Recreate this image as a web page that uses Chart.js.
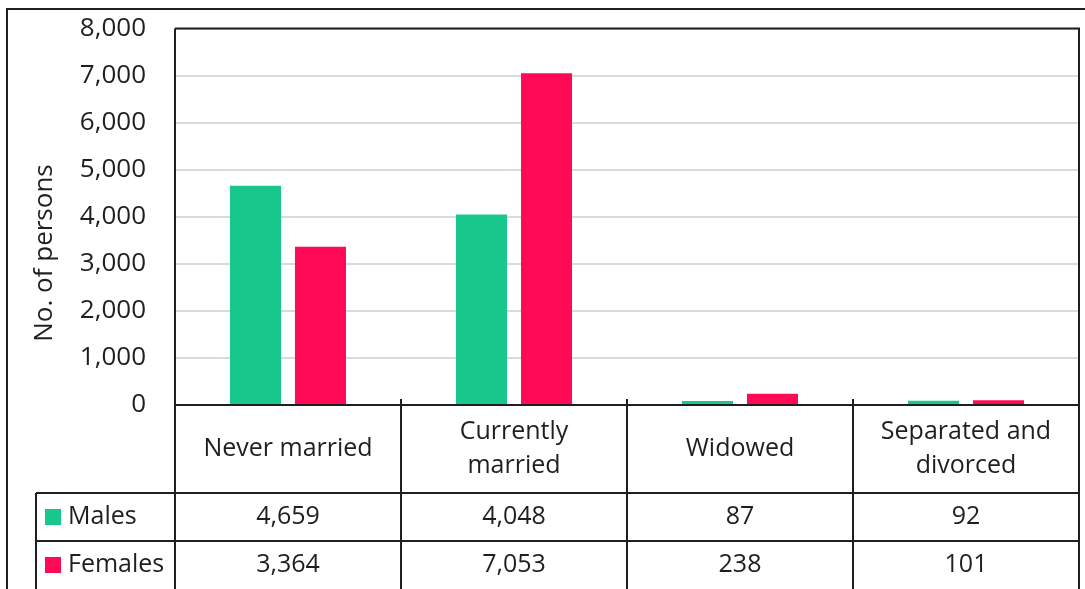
<!DOCTYPE html>
<html>
<head>
<meta charset="utf-8">
<script src="https://cdn.jsdelivr.net/npm/chart.js@4"></script>
<style>
  html, body { margin: 0; padding: 0; background: #fff; }
  #wrap { width: 1085px; height: 589px; }
</style>
</head>
<body>
<div id="wrap"><canvas id="c" width="1085" height="589"></canvas></div>
<script>
"use strict";

const categories = [["Never married"], ["Currently", "married"], ["Widowed"], ["Separated and", "divorced"]];
const seriesNames = ["Males", "Females"];
const males = [4659, 4048, 87, 92];
const females = [3364, 7053, 238, 101];
const yTitle = "No. of persons";
const yMax = 8000;
const yStep = 1000;

const green = "#17C78C";
const red = "#FF0A56";
const ink = "#1f1f1f";
const font = "'Open Sans', sans-serif";

const fmt = (v) => v.toLocaleString("en-US");

// frame, plot border, axis title and the data table under the x axis
const tablePlugin = {
  id: "dataTable",
  afterDraw(chart) {
    const ctx = chart.ctx;
    const x = chart.scales.x;
    const area = chart.chartArea;
    const n = categories.length;
    const w = (area.right - area.left) / n;
    const headBottom = area.bottom + 88;
    const row1Bottom = headBottom + 48;
    const row2Bottom = row1Bottom + 48;
    const tableLeft = 36;

    ctx.save();
    ctx.strokeStyle = ink;
    ctx.lineWidth = 2;

    // outer frame
    ctx.strokeRect(7, 9, 1100, 700);

    // plot box
    ctx.beginPath();
    ctx.moveTo(area.left, area.top);
    ctx.lineTo(area.right, area.top);
    ctx.lineTo(area.right, row2Bottom + 10);
    ctx.moveTo(area.left, area.bottom);
    ctx.lineTo(area.right, area.bottom);
    ctx.moveTo(area.left, area.top);
    ctx.lineTo(area.left, row2Bottom + 10);
    for (let i = 1; i < n; i++) {
      const bx = area.left + w * i;
      ctx.moveTo(bx, area.bottom - 6);
      ctx.lineTo(bx, row2Bottom + 10);
    }
    ctx.moveTo(tableLeft, headBottom);
    ctx.lineTo(area.right, headBottom);
    ctx.moveTo(tableLeft, row1Bottom);
    ctx.lineTo(area.right, row1Bottom);
    ctx.moveTo(tableLeft, headBottom);
    ctx.lineTo(tableLeft, row2Bottom + 10);
    ctx.stroke();

    ctx.fillStyle = ink;
    ctx.font = "25px " + font;
    ctx.textAlign = "center";
    ctx.textBaseline = "middle";

    categories.forEach((lines, i) => {
      const cx = x.getPixelForValue(i);
      const cy = (area.bottom + headBottom) / 2;
      const lh = 34;
      lines.forEach((t, k) => {
        ctx.fillText(t, cx, cy + (k - (lines.length - 1) / 2) * lh);
      });
      ctx.fillText(fmt(males[i]), cx, (headBottom + row1Bottom) / 2);
      ctx.fillText(fmt(females[i]), cx, (row1Bottom + row2Bottom) / 2);
    });

    // legend keys in the row headers
    const rows = [[headBottom, row1Bottom, green], [row1Bottom, row2Bottom, red]];
    rows.forEach(([t, b, col], k) => {
      const cy = (t + b) / 2;
      ctx.fillStyle = col;
      ctx.fillRect(45, cy - 8, 16, 16);
      ctx.fillStyle = ink;
      ctx.textAlign = "left";
      ctx.fillText(seriesNames[k], 68, cy);
    });

    // y axis title
    ctx.translate(45, 253);
    ctx.rotate(-Math.PI / 2);
    ctx.textAlign = "center";
    ctx.font = "26px " + font;
    ctx.fillText(yTitle, 0, 0);
    ctx.restore();
  }
};

new Chart(document.getElementById("c"), {
  type: "bar",
  data: {
    labels: categories.map((l) => l.join(" ")),
    datasets: [
      { label: seriesNames[0], data: males, backgroundColor: green },
      { label: seriesNames[1], data: females, backgroundColor: red }
    ]
  },
  options: {
    responsive: false,
    animation: false,
    devicePixelRatio: 1,
    categoryPercentage: 0.575,
    barPercentage: 0.785,
    layout: { padding: { top: 10, right: 6, bottom: 184, left: 0 } },
    plugins: {
      legend: { display: false },
      tooltip: { enabled: false }
    },
    scales: {
      x: { display: false },
      y: {
        min: 0,
        max: yMax,
        ticks: {
          stepSize: yStep,
          padding: 13,
          color: ink,
          font: { family: font, size: 26 },
          callback: (v) => fmt(v)
        },
        grid: {
          color: "#dadada",
          lineWidth: 2,
          drawTicks: true,
          tickLength: 16,
          tickColor: "rgba(0,0,0,0)"
        },
        border: { display: false },
        afterFit(scale) { scale.width = 175; }
      }
    }
  },
  plugins: [tablePlugin]
});
</script>
</body>
</html>
